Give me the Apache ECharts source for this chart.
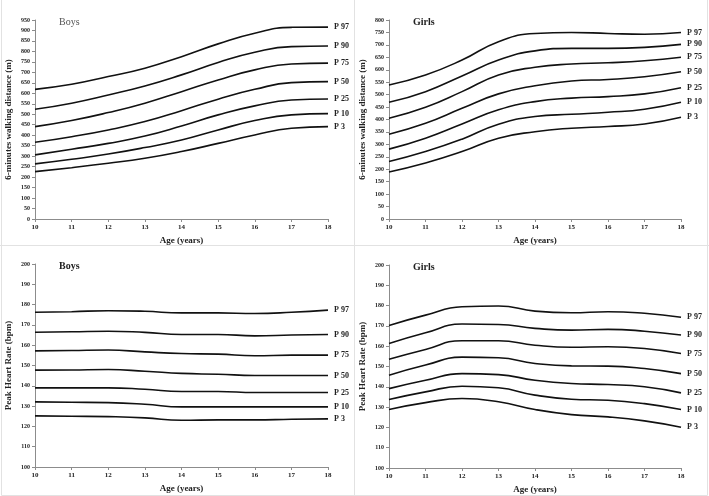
<!DOCTYPE html>
<html>
<head>
<meta charset="utf-8">
<script src="https://cdn.jsdelivr.net/npm/echarts@6/dist/echarts.min.js"></script>
<style>
html, body { margin: 0; padding: 0; background: #fff; }
#main { width: 709px; height: 496px; }
</style>
</head>
<body>
<div id="main"></div>
<script>
var ages = [10, 11, 12, 13, 14, 15, 16, 17, 18];
var pctNames = ['P 97', 'P 90', 'P 75', 'P 50', 'P 25', 'P 10', 'P 3'];

// 6-minute walking distance, boys
var walkBoys = [
    [619, 643, 680, 720, 775, 836, 887, 915, 916],
    [524, 553, 592, 635, 688, 747, 796, 823, 826],
    [441, 470, 508, 553, 608, 664, 712, 740, 744],
    [366, 393, 425, 465, 517, 572, 619, 651, 656],
    [306, 333, 361, 396, 444, 497, 540, 568, 573],
    [263, 285, 310, 341, 377, 425, 470, 497, 503],
    [226, 245, 266, 290, 322, 361, 401, 433, 441]
];
// 6-minute walking distance, girls
var walkGirls = [
    [539, 579, 639, 713, 746, 750, 746, 743, 750],
    [469, 512, 575, 639, 676, 686, 686, 690, 702],
    [405, 449, 512, 579, 610, 623, 628, 636, 650],
    [341, 385, 445, 503, 536, 555, 561, 572, 592],
    [281, 325, 382, 439, 472, 486, 492, 503, 528],
    [231, 271, 321, 381, 412, 421, 429, 441, 469],
    [189, 225, 271, 325, 351, 365, 372, 382, 409]
];
// peak heart rate, boys
var hrBoys = [
    [176.2, 176.5, 177.0, 176.7, 175.9, 175.9, 175.6, 176.2, 177.3],
    [166.4, 166.6, 166.9, 166.3, 165.3, 165.3, 164.6, 165.0, 165.3],
    [157.2, 157.4, 157.6, 156.7, 155.9, 155.6, 154.8, 155.1, 155.1],
    [147.7, 147.8, 148.0, 147.2, 146.1, 145.7, 145.1, 145.1, 145.1],
    [139.0, 139.0, 139.0, 138.3, 137.2, 137.2, 136.7, 136.7, 136.7],
    [132.1, 131.9, 131.7, 130.9, 129.6, 129.6, 129.6, 129.6, 129.6],
    [125.2, 125.0, 124.8, 124.2, 123.0, 123.2, 123.2, 123.5, 123.7]
];
// peak heart rate, girls
var hrGirls = [
    [170.2, 175.3, 179.4, 179.8, 177.3, 176.5, 177.0, 176.2, 174.3],
    [161.3, 166.6, 170.9, 170.7, 168.8, 167.9, 168.3, 167.4, 165.5],
    [153.6, 158.4, 162.7, 162.7, 160.5, 159.5, 159.7, 158.9, 156.4],
    [145.7, 150.7, 154.6, 154.3, 151.5, 150.3, 150.2, 149.0, 146.5],
    [139.1, 143.2, 146.5, 146.0, 143.2, 141.6, 141.1, 140.0, 137.0],
    [133.7, 137.5, 140.3, 139.5, 135.9, 133.9, 133.4, 131.7, 128.8],
    [128.8, 132.2, 134.2, 132.6, 128.8, 126.3, 125.2, 123.2, 120.1]
];

var panels = [
    {title: 'Boys', bold: false, yName: '6-minutes walking distance (m)', max: 950, step: 50, data: walkBoys,
        grid: {left: 35, top: 20, width: 293, height: 199}},
    {title: 'Girls', bold: true, yName: '6-minutes walking distance (m)', max: 800, step: 50, data: walkGirls,
        grid: {left: 389, top: 20, width: 292, height: 199}},
    {title: 'Boys', bold: true, yName: 'Peak Heart Rate (bpm)', min: 100, max: 200, step: 10, data: hrBoys,
        grid: {left: 35, top: 264, width: 293, height: 203}},
    {title: 'Girls', bold: true, yName: 'Peak Heart Rate (bpm)', min: 100, max: 200, step: 10, data: hrGirls,
        grid: {left: 389, top: 265, width: 292, height: 203}}
];

var font = '"Liberation Serif", "DejaVu Serif", serif';
var axisGray = '#8c8c8c';

var grids = [], xAxes = [], yAxes = [], series = [], titles = [];
panels.forEach(function (p, k) {
    grids.push(p.grid);
    xAxes.push({
        type: 'value', gridIndex: k, min: 10, max: 18, interval: 1,
        name: 'Age (years)', nameLocation: 'middle', nameGap: 17,
        nameTextStyle: {fontFamily: font, fontWeight: 'bold', fontSize: 9, color: '#222'},
        axisLine: {lineStyle: {color: axisGray}},
        axisTick: {length: 3, lineStyle: {color: axisGray}},
        axisLabel: {fontFamily: font, fontWeight: 'bold', fontSize: 7, color: '#222', margin: 5},
        splitLine: {show: false}
    });
    yAxes.push({
        type: 'value', gridIndex: k, min: p.min || 0, max: p.max, interval: p.step,
        name: p.yName, nameLocation: 'middle', nameGap: 22,
        nameTextStyle: {fontFamily: font, fontWeight: 'bold', fontSize: 9, color: '#222'},
        axisLine: {show: true, lineStyle: {color: axisGray}},
        axisTick: {show: true, length: 3, lineStyle: {color: axisGray}},
        axisLabel: {fontFamily: font, fontWeight: 'bold', fontSize: 6, color: '#222', margin: 5},
        splitLine: {show: false}
    });
    titles.push({
        text: p.title, left: p.grid.left + 19, top: p.grid.top - 8,
        textStyle: {fontFamily: font, fontSize: 10, fontWeight: p.bold ? 'bold' : 'normal', color: p.bold ? '#222' : '#555'}
    });
    p.data.forEach(function (vals, i) {
        series.push({
            type: 'line', xAxisIndex: k, yAxisIndex: k, name: pctNames[i],
            data: ages.map(function (a, j) { return [a, vals[j]]; }),
            smooth: 0.5, symbol: 'none',
            lineStyle: {color: '#111', width: 1.6},
            endLabel: {show: true, formatter: pctNames[i], distance: 6,
                fontFamily: font, fontWeight: 'bold', fontSize: 8, color: '#222'},
            silent: true
        });
    });
});

var chart = echarts.init(document.getElementById('main'));
chart.setOption({
    backgroundColor: '#fff',
    animation: false,
    title: titles,
    grid: grids,
    xAxis: xAxes,
    yAxis: yAxes,
    series: series,
    graphic: [
        {type: 'rect', shape: {x: 1.5, y: -1, width: 706, height: 496.5}, style: {fill: 'none', stroke: '#e2e2e2', lineWidth: 1}},
        {type: 'line', shape: {x1: 354.5, y1: 0, x2: 354.5, y2: 496}, style: {stroke: '#e2e2e2', lineWidth: 1}},
        {type: 'line', shape: {x1: 0, y1: 245.5, x2: 709, y2: 245.5}, style: {stroke: '#e2e2e2', lineWidth: 1}}
    ]
});
</script>
</body>
</html>
